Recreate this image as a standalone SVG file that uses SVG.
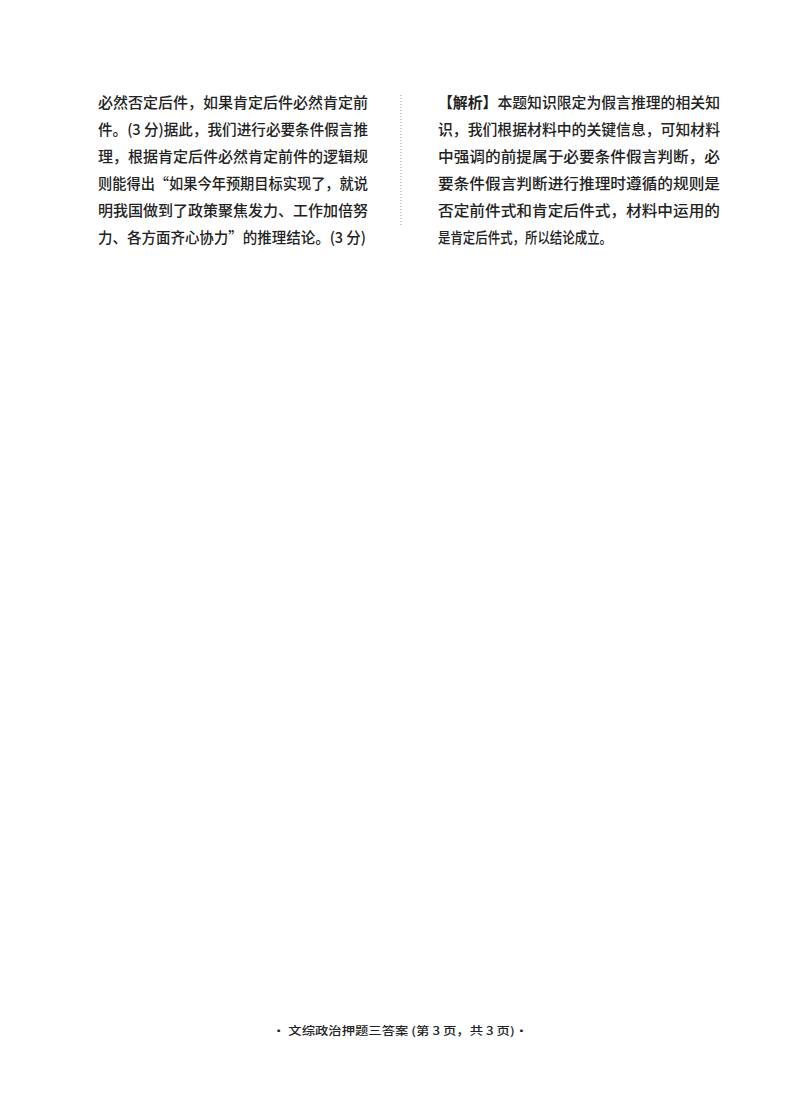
<svg xmlns="http://www.w3.org/2000/svg" width="800" height="1114" viewBox="0 0 800 1114">
<style>
text{font-family:"Noto Sans CJK SC","Liberation Serif",serif;font-size:15px;fill:#222;font-weight:500}
.f{font-size:11px}
</style>
<rect width="800" height="1114" fill="#fff"/>
<line x1="401" y1="95" x2="401" y2="226" stroke="#999" stroke-dasharray="1,2"/>
<g id="left">
<text x="98" y="108" textLength="270" lengthAdjust="spacingAndGlyphs">必然否定后件，如果肯定后件必然肯定前</text>
<text x="98" y="135" textLength="270" lengthAdjust="spacingAndGlyphs">件。(3 分)据此，我们进行必要条件假言推</text>
<text x="98" y="162" textLength="270" lengthAdjust="spacingAndGlyphs">理，根据肯定后件必然肯定前件的逻辑规</text>
<text x="98" y="189" textLength="270" lengthAdjust="spacingAndGlyphs">则能得出“如果今年预期目标实现了，就说</text>
<text x="98" y="216" textLength="270" lengthAdjust="spacingAndGlyphs">明我国做到了政策聚焦发力、工作加倍努</text>
<text x="98" y="243" textLength="268" lengthAdjust="spacingAndGlyphs">力、各方面齐心协力”的推理结论。(3 分)</text>
</g>
<g id="right">
<text x="438" y="108" textLength="282" lengthAdjust="spacingAndGlyphs"><tspan font-weight="700">【解析】</tspan>本题知识限定为假言推理的相关知</text>
<text x="438" y="135" textLength="282" lengthAdjust="spacingAndGlyphs">识，我们根据材料中的关键信息，可知材料</text>
<text x="438" y="162" textLength="282" lengthAdjust="spacingAndGlyphs">中强调的前提属于必要条件假言判断，必</text>
<text x="438" y="189" textLength="282" lengthAdjust="spacingAndGlyphs">要条件假言判断进行推理时遵循的规则是</text>
<text x="438" y="216" textLength="282" lengthAdjust="spacingAndGlyphs">否定前件式和肯定后件式，材料中运用的</text>
<text x="438" y="243" textLength="174" lengthAdjust="spacingAndGlyphs">是肯定后件式，所以结论成立。</text>
</g>
<text class="f" x="272" y="1035" textLength="256" lengthAdjust="spacingAndGlyphs">•  文综政治押题三答案  (第 3 页，共 3 页)•</text>
</svg>
